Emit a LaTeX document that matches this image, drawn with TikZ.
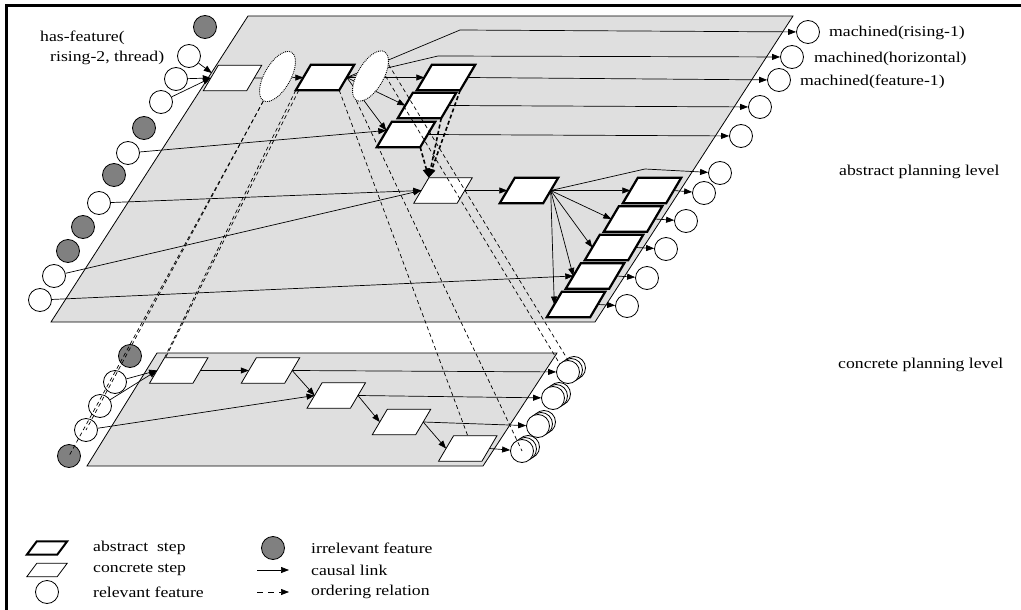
\documentclass[tikz,border=0pt]{standalone}
\usepackage{fontspec}
\setmainfont{Liberation Serif}
\newfontfamily\lblfam[FakeStretch=1.18]{Liberation Serif}
\usetikzlibrary{shapes.geometric,arrows.meta,calc}
\pgfdeclarelayer{bg}\pgfdeclarelayer{edges}\pgfdeclarelayer{front}
\pgfsetlayers{bg,edges,main,front}
\definecolor{planegray}{RGB}{223,223,223}
\definecolor{irrgray}{RGB}{128,128,128}
\begin{document}
\begin{tikzpicture}[x=1pt,y=-1pt,
  plane/.style={draw=black,line width=0.8pt,fill=planegray},
  stepnode/.style={rectangle,minimum width=43pt,minimum height=25pt,inner sep=0pt},
  absline/.style={draw=black,fill=white,line width=2.2pt,line join=miter},
  concline/.style={draw=black,fill=white,line width=0.8pt},
  feat/.style={circle,draw=black,fill=white,line width=0.8pt,minimum size=23pt,inner sep=0pt},
  irr/.style={feat,fill=irrgray},
  grp/.style={ellipse,draw=black,fill=white,densely dotted,line width=0.9pt,
    minimum width=56pt,minimum height=26pt,inner sep=0pt,rotate=60},
  causal/.style={draw=black,line width=0.7pt,-{Triangle[length=8pt,width=6pt]}},
  refine/.style={draw=black,line width=0.7pt,dash pattern=on 4pt off 3pt},
  order/.style={draw=black,line width=1.6pt,dash pattern=on 4pt off 2.5pt,-{Triangle[length=9pt,width=7pt]}},
  orderleg/.style={draw=black,line width=0.7pt,dash pattern=on 6pt off 5pt,-{Triangle[length=8pt,width=6pt]}},
  lbl/.style={font=\lblfam\fontsize{15}{17}\selectfont,anchor=west,inner sep=0pt}
]
\useasboundingbox (0,0) rectangle (1021,610);
\draw[line width=3pt] (6.5,610) -- (6.5,6) -- (1021,6);

% planes
\begin{pgfonlayer}{bg}
\path[plane] (248,16) -- (793,16) -- (595,322) -- (51,322) -- cycle;
\path[plane] (157,353) -- (557,353) -- (483,466) -- (87,466) -- cycle;
\end{pgfonlayer}

% abstract level input features
\node[irr]  (F1)  at (205,27) {};
\node[feat] (F2)  at (189,56) {};
\node[feat] (F3)  at (176,79) {};
\node[feat] (F4)  at (161,102) {};
\node[irr]  (F5)  at (144,128) {};
\node[feat] (F6)  at (128,153) {};
\node[irr]  (F7)  at (114,175) {};
\node[feat] (F8)  at (99,203) {};
\node[irr]  (F9)  at (83,227) {};
\node[irr]  (F10) at (68,251) {};
\node[feat] (F11) at (54,276) {};
\node[feat] (F12) at (40,300) {};

% abstract level steps (bodies; parallelograms drawn below)
\node[stepnode] (A1) at (232.5,78) {};
\node[stepnode] (A2) at (325,77.5) {};
\node[stepnode] (B1) at (446,77.5) {};
\node[stepnode] (B2) at (427,105.5) {};
\node[stepnode] (B3) at (406,134.5) {};
\node[stepnode] (Cs) at (443,190.5) {};
\node[stepnode] (D)  at (529,190.5) {};
\node[stepnode] (H1) at (652,190.5) {};
\node[stepnode] (H2) at (633,219) {};
\node[stepnode] (H3) at (614,247.5) {};
\node[stepnode] (H4) at (595,276) {};
\node[stepnode] (H5) at (576,304.5) {};

% concrete steps
\node[stepnode] (C1) at (178.75,370.5) {};
\node[stepnode] (C2) at (270.5,370.5) {};
\node[stepnode] (C3) at (336.25,395.5) {};
\node[stepnode] (C4) at (401.5,422) {};
\node[stepnode] (C5) at (467.75,448.5) {};

\foreach \n in {A2,B1,B2,B3,D,H1,H2,H3,H4,H5}
  \draw[absline] ($(\n.south west)+(-7.5,0)$) -- ($(\n.north west)+(7.5,0)$)
     -- ($(\n.north east)+(7.5,0)$) -- ($(\n.south east)+(-7.5,0)$) -- cycle;
\foreach \n in {A1,Cs,C1,C2,C3,C4,C5}
  \draw[concline] ($(\n.south west)+(-7.5,0)$) -- ($(\n.north west)+(7.5,0)$)
     -- ($(\n.north east)+(7.5,0)$) -- ($(\n.south east)+(-7.5,0)$) -- cycle;

% feature groups (dotted)
\node[grp]  (E1) at (277.5,76.5) {};
\node[grp]  (E2) at (370.5,76) {};

% abstract level output features
\node[feat] (M1)  at (808,32) {};
\node[feat] (M2)  at (792,57) {};
\node[feat] (M3)  at (779,80) {};
\node[feat] (M4)  at (760,107) {};
\node[feat] (M5)  at (741,136) {};
\node[feat] (M6)  at (720,173) {};
\node[feat] (M7)  at (704,193) {};
\node[feat] (M8)  at (686,221) {};
\node[feat] (M9)  at (666,249) {};
\node[feat] (M10) at (647,278) {};
\node[feat] (M11) at (627,306) {};

\coordinate (k1) at (460,30);
\coordinate (k2) at (438,56);
\coordinate (k6) at (645,169);

% concrete level input features
\node[irr]  (G1) at (130,356) {};
\node[feat] (G2) at (115,382) {};
\node[feat] (G3) at (100,406) {};
\node[feat] (G4) at (86,430) {};
\node[irr]  (G5) at (69,456) {};

% concrete output features (stacked)
\foreach \x/\y in {568/372,553/398,538/426,522/451}{
  \draw[line width=0.8pt,fill=white] (\x+6,\y-4) circle[radius=11.5pt];
  \draw[line width=0.8pt,fill=white] (\x+3,\y-2) circle[radius=11.5pt];
}
\node[feat] (S1) at (568,372) {};
\node[feat] (S2) at (553,398) {};
\node[feat] (S3) at (538,426) {};
\node[feat] (S4) at (522,451) {};

% causal links
\begin{pgfonlayer}{edges}
\draw[causal] (F2) -- ($(A1.west)+(1,-5)$);
\draw[causal] (F3) -- (A1.west);
\draw[causal] (F4) -- (A1.west);
\draw[causal] (A1.east) -- (A2.west);
\draw[causal] (A2.east) -- (B1.west);
\draw[causal] (A2.east) -- (B2.west);
\draw[causal] (A2.east) -- ($(B3.west)+(2,-4)$);
\draw[causal] (A2.east) -- (k1) -- (M1);
\draw[causal] (A2.east) -- (k2) -- (M2);
\draw[causal] (B1.east) -- (M3);
\draw[causal] (B2.east) -- (M4);
\draw[causal] (B3.east) -- (M5);
\draw[causal] (F6) -- ($(B3.west)+(2,-4)$);
\draw[causal] (F8) -- (Cs.west);
\draw[causal] (F11) -- (Cs.west);
\draw[causal] (F12) -- (H4.west);
\draw[causal] (Cs.east) -- (D.west);
\draw[causal] (D.east) -- (H1.west);
\draw[causal] (D.east) -- (H2.west);
\draw[causal] (D.east) -- (H3.west);
\draw[causal] (D.east) -- (H4.west);
\draw[causal] (D.east) -- (H5.west);
\draw[causal] (D.east) -- (k6) -- (M6);
\draw[causal] (H1.east) -- (M7);
\draw[causal] (H2.east) -- (M8);
\draw[causal] (H3.east) -- (M9);
\draw[causal] (H4.east) -- (M10);
\draw[causal] (H5.east) -- (M11);
% concrete level
\draw[causal] (G2) -- (C1.west);
\draw[causal] (G3) -- (C1.west);
\draw[causal] (G4) -- (C3.west);
\draw[causal] (C1.east) -- (C2.west);
\draw[causal] (C2.east) -- (S1);
\draw[causal] (C2.east) -- (C3.west);
\draw[causal] (C3.east) -- (S2);
\draw[causal] (C3.east) -- (C4.west);
\draw[causal] (C4.east) -- (S3);
\draw[causal] (C4.east) -- (C5.west);
\draw[causal] (C5.east) -- (S4);
\end{pgfonlayer}

% refinement / ordering (dashed)
\begin{pgfonlayer}{front}
\draw[order] ($(B1.south east)+(-7.5,0)$) -- ($(Cs.north west)+(7.5,0)$);
\draw[order] ($(B2.south east)+(-7.5,0)$) -- ($(Cs.north west)+(7.5,0)$);
\draw[order] ($(B3.south east)+(-7.5,0)$) -- ($(Cs.north west)+(7.5,0)$);
\draw[refine] (E1.west) -- (G5.center);
\draw[refine] (E1.west) -- (G4.center);
\draw[refine] ($(A2.south west)+(-7.5,0)$) -- ($(C1.north west)+(7.5,0)$);
\draw[refine] ($(A2.south west)+(-4.5,0)$) -- ($(C1.north west)+(8.5,0)$);
\draw[refine] ($(A2.south east)+(-7.5,0)$) -- (C5.north);
\draw[refine] (E2.west) -- (S4.center);
\draw[refine] (E2.-28) -- (S1.north);
\draw[refine] (E2.-60) -- (S1.north west);
\end{pgfonlayer}

% labels
\node[lbl] (t1) at (40,38) {has-feature(};
\node[lbl] (t2) at (50,58) {rising-2, thread)};
\node[lbl] (t3) at (829,33) {machined(rising-1)};
\node[lbl] (t4) at (814,59) {machined(horizontal)};
\node[lbl] (t5) at (800,82) {machined(feature-1)};
\node[lbl] (t6) at (839,172) {abstract planning level};
\node[lbl] (t7) at (838,365) {concrete planning level};

% legend
\node[rectangle,minimum width=30pt,minimum height=13pt,inner sep=0pt] (LA) at (47,548) {};
\node[rectangle,minimum width=30pt,minimum height=13pt,inner sep=0pt] (LC) at (47,570) {};
\draw[absline,line width=2pt] ($(LA.south west)+(-5,0)$) -- ($(LA.north west)+(5,0)$)
   -- ($(LA.north east)+(5,0)$) -- ($(LA.south east)+(-5,0)$) -- cycle;
\draw[concline] ($(LC.south west)+(-5,0)$) -- ($(LC.north west)+(5,0)$)
   -- ($(LC.north east)+(5,0)$) -- ($(LC.south east)+(-5,0)$) -- cycle;
\node[feat] (LR) at (47,592) {};
\node[irr] (LI) at (273,548) {};
\coordinate (lc1) at (257,570);
\coordinate (lc2) at (289,570);
\coordinate (lo1) at (257,592);
\coordinate (lo2) at (289,592);
\draw[causal] (lc1) -- (lc2);
\draw[orderleg] (lo1) -- (lo2);
\node[lbl] (l1) at (93,548) {abstract~ step};
\node[lbl] (l2) at (93,570) {concrete step};
\node[lbl] (l3) at (93,592) {relevant feature};
\node[lbl] (l4) at (311,548) {irrelevant feature};
\node[lbl] (l5) at (311,570) {causal link};
\node[lbl] (l6) at (311,592) {ordering relation};
\end{tikzpicture}
\end{document}
